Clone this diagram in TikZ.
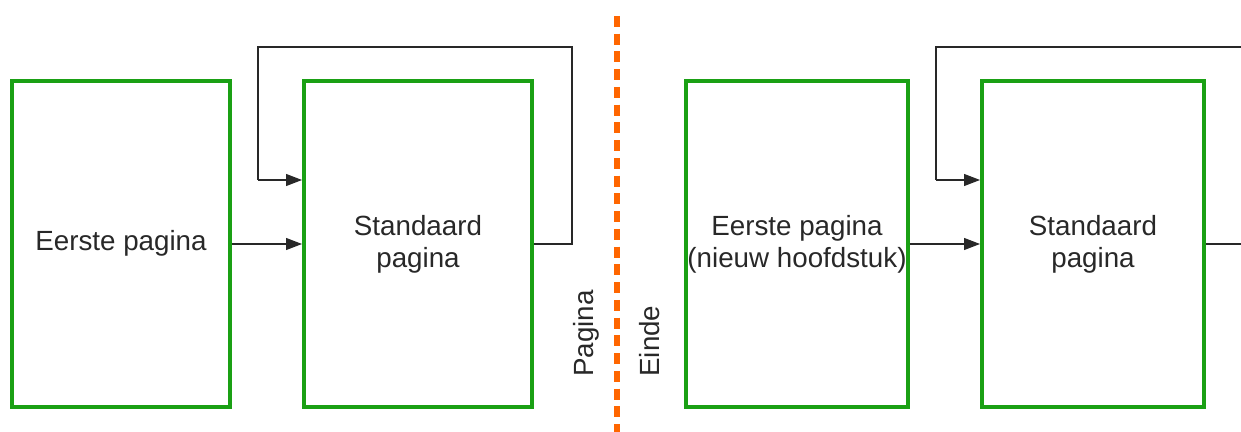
\documentclass[tikz,border=0pt]{standalone}
\usepackage{fontspec}
\setmainfont{Liberation Sans}
\usetikzlibrary{arrows.meta}
\definecolor{pagegreen}{RGB}{26,160,20}
\definecolor{breakorange}{RGB}{255,102,0}
\definecolor{ink}{RGB}{40,40,40}
\tikzset{x=0.02cm, y=-0.02cm}
\tikzset{
    pagebox/.style={draw=pagegreen, line width=4pt*0.57, rectangle,
    	inner sep=0pt, minimum height=6.52cm, align=center,
    	text=ink, font=\fontsize{15.8pt}{18.2pt}\selectfont},
    conn/.style={draw=ink, line width=0.6pt},
    arr/.style={conn, -{Triangle[length=0.32cm, width=0.24cm]}}
}

\begin{document}
\begin{tikzpicture}
  \useasboundingbox (0,0) rectangle (1241,432);
  \clip (0,0) rectangle (1241,432);

  \node (b1) [pagebox, minimum width=4.36cm] at (121,244) {\strut Eerste pagina};
  \node (b2) [pagebox, minimum width=4.56cm] at (418,244) {Standaard\\pagina};
  \node (b3) [pagebox, minimum width=4.44cm] at (797,244) {Eerste pagina\\(nieuw hoofdstuk)};
  \node (b4) [pagebox, minimum width=4.44cm] at (1093,244) {Standaard\\pagina};

  % page break marker
  \coordinate (d0) at (617,16);
  \coordinate (d1) at (617,440);
  \draw[breakorange, line width=6pt*0.57, dash pattern=on 0.22cm off 0.135cm] (d0) -- (d1);
  \node (lp) [rotate=90, anchor=west, inner sep=0pt, text=ink,
    font=\fontsize{15.8pt}{18.2pt}\selectfont] at (586,377) {Pagina};
  \node (le) [rotate=90, anchor=west, inner sep=0pt, text=ink,
    font=\fontsize{15.8pt}{18.2pt}\selectfont] at (650,377) {Einde};

  % left part
  \coordinate (t1a) at (572,47);
  \coordinate (t1b) at (258,180);
  \draw[arr] (b1.east) -- (b2.west);
  \draw[conn] (b2.east) -| (t1a) -| (t1b);
  \draw[arr] (t1b) -- (t1b -| b2.west);

  % right part
  \coordinate (t2a) at (1260,47);
  \coordinate (t2b) at (936,180);
  \draw[arr] (b3.east) -- (b4.west);
  \draw[conn] (b4.east) -- (b4.east -| t2a);
  \draw[conn] (t2a) -| (t2b);
  \draw[arr] (t2b) -- (t2b -| b4.west);

\end{tikzpicture}
\end{document}
